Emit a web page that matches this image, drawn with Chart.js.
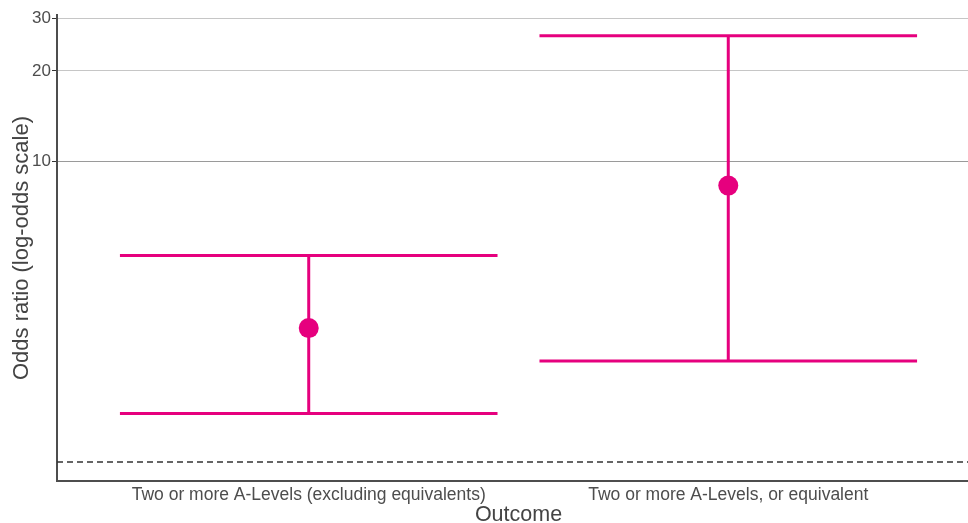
<!DOCTYPE html>
<html>
<head>
<meta charset="utf-8">
<script src="https://cdn.jsdelivr.net/npm/chart.js@4"></script>
<style>
  html, body { margin: 0; padding: 0; overflow: hidden; background: #ffffff; }
  #wrap { width: 980px; height: 523px; }
</style>
</head>
<body>
<div id="wrap"><canvas id="c" width="980" height="523"></canvas></div>
<script>
// Odds ratios with 95% confidence intervals, one per outcome
const outcomes = ['Two or more A-Levels (excluding equivalents)', 'Two or more A-Levels, or equivalent'];
const oddsRatio = [2.79, 8.31];
const ciLower = [1.45, 2.17];
const ciUpper = [4.87, 26.2];
const yTicks = [10, 20, 30];
const referenceOR = 1;

const MAGENTA = '#e6007e';
const CAP_HALF = 0.45;          // half-width of the error-bar caps, in category units
const X_MIN = -0.6, X_MAX = 1.6;

const datasets = [];

// reference line at odds ratio = 1
datasets.push({
  data: [{ x: X_MIN, y: referenceOR }, { x: X_MAX, y: referenceOR }],
  showLine: true, pointRadius: 0, borderColor: '#333333', borderWidth: 1.5,
  borderDash: [6, 4], order: 3
});

outcomes.forEach((name, i) => {
  // vertical whisker
  datasets.push({
    data: [{ x: i, y: ciLower[i] }, { x: i, y: ciUpper[i] }],
    showLine: true, pointRadius: 0, borderColor: MAGENTA, borderWidth: 3, order: 2
  });
  // upper cap
  datasets.push({
    data: [{ x: i - CAP_HALF, y: ciUpper[i] }, { x: i + CAP_HALF, y: ciUpper[i] }],
    showLine: true, pointRadius: 0, borderColor: MAGENTA, borderWidth: 3, order: 2
  });
  // lower cap
  datasets.push({
    data: [{ x: i - CAP_HALF, y: ciLower[i] }, { x: i + CAP_HALF, y: ciLower[i] }],
    showLine: true, pointRadius: 0, borderColor: MAGENTA, borderWidth: 3, order: 2
  });
});

// point estimates
datasets.push({
  data: outcomes.map((_, i) => ({ x: i, y: oddsRatio[i] })),
  showLine: false, pointRadius: 10, pointBorderWidth: 0,
  backgroundColor: MAGENTA, borderColor: MAGENTA, order: 0
});

const FONT = 'Liberation Sans, Arial, sans-serif';

new Chart(document.getElementById('c'), {
  type: 'scatter',
  data: { datasets },
  options: {
    responsive: false,
    animation: false,
    layout: { autoPadding: false, padding: { top: 15, right: 0, left: 0, bottom: 0 } },
    plugins: { legend: { display: false }, tooltip: { enabled: false } },
    scales: {
      x: {
        type: 'linear', min: X_MIN, max: X_MAX,
        afterBuildTicks: s => { s.ticks = outcomes.map((_, i) => ({ value: i })); },
        afterFit: s => { s.height = 42; },
        ticks: {
          autoSkip: false, maxRotation: 0, padding: 2,
          color: '#4d4d4d', font: { family: FONT, size: 17.5 },
          callback: v => outcomes[v]
        },
        grid: { drawOnChartArea: false, drawTicks: true, tickLength: 2, tickColor: 'rgba(0,0,0,0)' },
        border: { color: '#4d4d4d', width: 2 },
        title: {
          display: true, text: 'Outcome', color: '#444444',
          font: { family: FONT, size: 21.5, lineHeight: 0.75 }, padding: { top: 0, bottom: 0 }
        }
      },
      y: {
        type: 'logarithmic', min: 0.865, max: 30.7,
        afterBuildTicks: s => { s.ticks = yTicks.map(v => ({ value: v })); },
        afterFit: s => { s.width = 57; },
        ticks: {
          padding: 1, color: '#4d4d4d', font: { family: FONT, size: 17 },
          callback: v => String(v)
        },
        grid: {
          color: ctx => (ctx.tick && ctx.tick.value === 10) ? '#9a9a9a' : '#c6c6c6',
          lineWidth: 1, drawTicks: true, tickLength: 5, tickColor: '#333333'
        },
        border: { color: '#4d4d4d', width: 2 },
        title: {
          display: true, text: 'Odds ratio (log-odds scale)', color: '#444444',
          font: { family: FONT, size: 22 }, padding: { top: 9, bottom: 0 }
        }
      }
    }
  }
});
</script>
</body>
</html>
